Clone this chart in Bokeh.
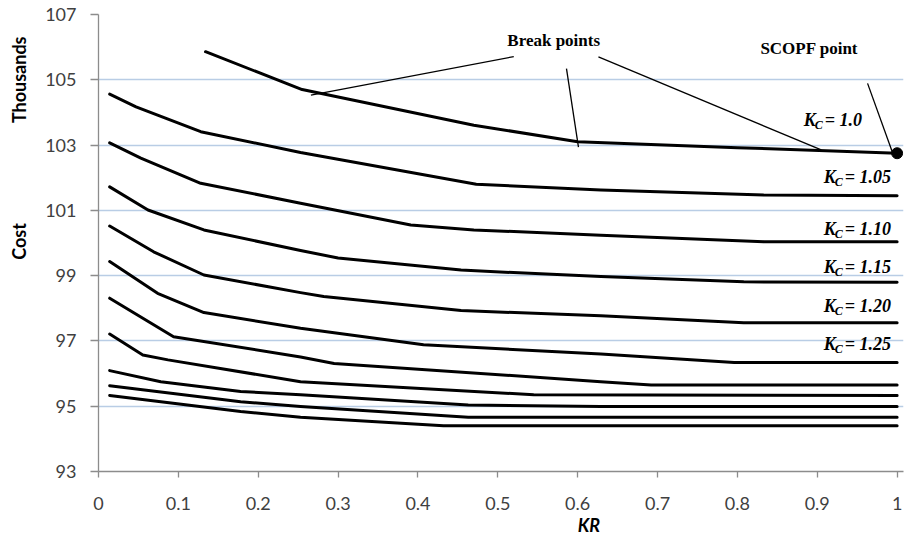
from bokeh.plotting import figure
from bokeh.models import Label, FixedTicker, LinearAxis
from bokeh.embed import file_html
from bokeh.resources import INLINE

# ---- data ----
kc100_x = [0.134, 0.255, 0.470, 0.600, 0.800, 1.0]
kc100_y = [105.86, 104.70, 103.61, 103.10, 102.92, 102.75]

kc105_x = [0.014, 0.047, 0.128, 0.253, 0.473, 0.629, 0.833, 1.0]
kc105_y = [104.56, 104.17, 103.41, 102.77, 101.80, 101.62, 101.47, 101.45]

kc110_x = [0.014, 0.053, 0.128, 0.253, 0.391, 0.470, 0.629, 0.833, 1.0]
kc110_y = [103.07, 102.60, 101.83, 101.22, 100.55, 100.40, 100.24, 100.04, 100.04]

kc115_x = [0.014, 0.062, 0.132, 0.253, 0.300, 0.454, 0.629, 0.808, 1.0]
kc115_y = [101.72, 101.01, 100.40, 99.77, 99.54, 99.17, 98.97, 98.81, 98.80]

kc120_x = [0.014, 0.069, 0.132, 0.253, 0.282, 0.454, 0.629, 0.808, 1.0]
kc120_y = [100.52, 99.73, 99.02, 98.48, 98.36, 97.93, 97.77, 97.56, 97.56]

kc125_x = [0.014, 0.074, 0.132, 0.253, 0.407, 0.629, 0.796, 1.0]
kc125_y = [99.43, 98.46, 97.87, 97.39, 96.88, 96.60, 96.34, 96.34]

line7_x = [0.014, 0.094, 0.253, 0.295, 0.629, 0.692, 1.0]
line7_y = [98.31, 97.13, 96.51, 96.31, 95.75, 95.65, 95.65]

line8_x = [0.014, 0.0555, 0.087, 0.253, 0.545, 1.0]
line8_y = [97.21, 96.57, 96.42, 95.75, 95.35, 95.33]

line9_x = [0.014, 0.078, 0.178, 0.253, 0.463, 0.629, 1.0]
line9_y = [96.09, 95.75, 95.45, 95.35, 95.04, 94.99, 94.99]

line10_x = [0.014, 0.178, 0.253, 0.463, 1.0]
line10_y = [95.63, 95.14, 94.99, 94.66, 94.66]

line11_x = [0.014, 0.178, 0.253, 0.432, 1.0]
line11_y = [95.33, 94.84, 94.66, 94.40, 94.40]

x_ticks = [0, 0.1, 0.2, 0.3, 0.4, 0.5, 0.6, 0.7, 0.8, 0.9, 1.0]
x_tick_labels = ["0", "0.1", "0.2", "0.3", "0.4", "0.5", "0.6", "0.7", "0.8", "0.9", "1"]
y_ticks = [93, 95, 97, 99, 101, 103, 105, 107]

# axis title texts placed where the reference shows them
y_title_pos = [105.0, 100.05]
y_title_text = ["Thousands", "Cost"]
x_title_pos = [0.614]
x_title_text = ["KR"]

kc_texts = ["1.0", "1.05", "1.10", "1.15", "1.20", "1.25"]
kc_label_x = [0.883, 0.908, 0.908, 0.908, 0.908, 0.908]
kc_label_y = [103.76, 102.02, 100.43, 99.27, 98.07, 96.91]

series = [
    (kc100_x, kc100_y), (kc105_x, kc105_y), (kc110_x, kc110_y),
    (kc115_x, kc115_y), (kc120_x, kc120_y), (kc125_x, kc125_y),
    (line7_x, line7_y), (line8_x, line8_y), (line9_x, line9_y),
    (line10_x, line10_y), (line11_x, line11_y),
]

# annotation leader lines (data coordinates)
lead_x0 = [0.520, 0.586, 0.626, 0.963]
lead_y0 = [105.71, 105.34, 105.70, 104.89]
lead_x1 = [0.266, 0.601, 0.905, 0.994]
lead_y1 = [104.53, 102.94, 102.85, 102.79]

# ---- figure ----
p = figure(width=906, height=538, x_range=(0, 1.008), y_range=(93, 107),
           output_backend="svg", toolbar_location=None,
           min_border_left=98, min_border_right=3, min_border_top=14,
           min_border_bottom=66)
p.outline_line_color = None
p.background_fill_color = "white"
p.border_fill_color = "white"

TICK_FONT = "Lato"
TICK_COLOR = "#404040"
AXIS_COLOR = "#8c8c8c"

p.xaxis.ticker = FixedTicker(ticks=x_ticks)
p.xaxis.major_label_overrides = {t: l for t, l in zip(x_ticks, x_tick_labels)}
p.yaxis.ticker = FixedTicker(ticks=y_ticks)

for ax in (p.xaxis, p.yaxis):
    ax.axis_line_color = AXIS_COLOR
    ax.axis_line_width = 1.3
    ax.major_tick_line_color = AXIS_COLOR
    ax.major_tick_line_width = 1.3
    ax.major_tick_in = 0
    ax.minor_tick_line_color = None
    ax.major_label_text_font = TICK_FONT
    ax.major_label_text_font_size = "18px"
    ax.major_label_text_color = TICK_COLOR

p.xaxis.major_tick_out = 6
p.xaxis.major_label_standoff = 19
p.yaxis.major_tick_out = 8
p.yaxis.major_label_standoff = 14


def title_axis(positions, texts, orientation, standoff, style):
    return LinearAxis(ticker=FixedTicker(ticks=positions),
                      major_label_overrides={v: t for v, t in zip(positions, texts)},
                      major_label_orientation=orientation,
                      axis_line_color=None, major_tick_line_color=None,
                      minor_tick_line_color=None, major_tick_out=0, major_tick_in=0,
                      major_label_standoff=standoff,
                      major_label_text_font=TICK_FONT,
                      major_label_text_font_size="18px",
                      major_label_text_font_style=style,
                      major_label_text_color="#000000")


# outer axes that carry the axis titles
p.add_layout(title_axis(y_title_pos, y_title_text, "vertical", 12, "bold"), "left")
p.add_layout(title_axis(x_title_pos, x_title_text, "horizontal", 1, "bold italic"), "below")

p.xgrid.grid_line_color = None
p.ygrid.grid_line_color = "#b9cde5"
p.ygrid.grid_line_width = 1.3

for xs, ys in series:
    p.line(xs, ys, line_color="black", line_width=3, line_join="round", line_cap="round")

# SCOPF point at end of Kc = 1.0 curve
p.scatter([kc100_x[-1]], [kc100_y[-1]], size=11, color="black")

# leader lines
p.segment(x0=lead_x0, y0=lead_y0, x1=lead_x1, y1=lead_y1, line_color="black", line_width=1.3)

SERIF = "Liberation Serif"
p.add_layout(Label(x=0.570, y=106.21, text="Break points", text_font=SERIF,
                   text_font_size="17px", text_font_style="bold",
                   text_align="center", text_baseline="middle", text_color="black"))
p.add_layout(Label(x=0.890, y=105.97, text="SCOPF point", text_font=SERIF,
                   text_font_size="17px", text_font_style="bold",
                   text_align="center", text_baseline="middle", text_color="black"))

for t, lx, ly in zip(kc_texts, kc_label_x, kc_label_y):
    p.add_layout(Label(x=lx, y=ly, text="K", text_font=SERIF, text_font_size="18px",
                       text_font_style="bold italic", text_align="left",
                       text_baseline="middle", text_color="black"))
    p.add_layout(Label(x=lx, y=ly, x_offset=11, y_offset=-5, text="C", text_font=SERIF,
                       text_font_size="12px", text_font_style="bold italic",
                       text_align="left", text_baseline="middle", text_color="black"))
    p.add_layout(Label(x=lx, y=ly, x_offset=21, text="= " + t, text_font=SERIF,
                       text_font_size="18px", text_font_style="bold italic",
                       text_align="left", text_baseline="middle", text_color="black"))

open("out.html", "w").write(file_html(p, INLINE))
